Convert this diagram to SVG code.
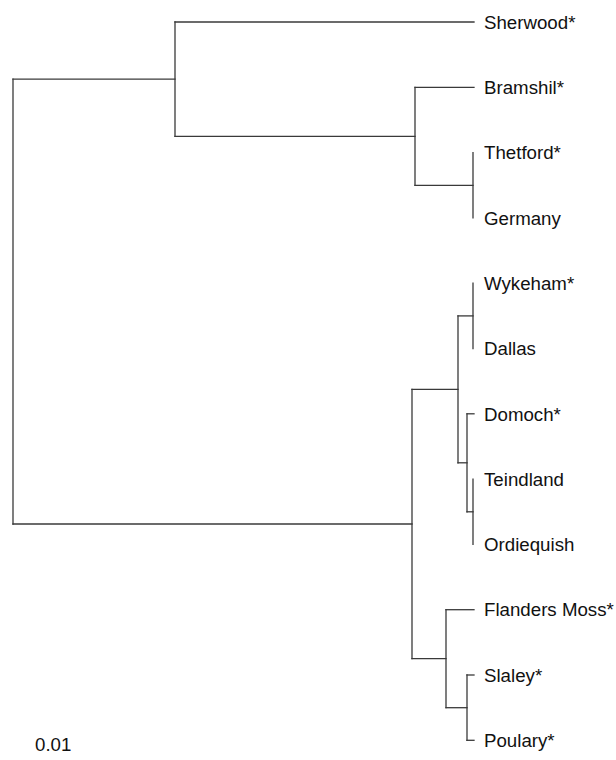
<svg xmlns="http://www.w3.org/2000/svg" width="616" height="760" viewBox="0 0 616 760">
<style>
.e{fill:none;stroke:#3a3a3a;stroke-width:1.3;stroke-linecap:square}
.t{font-family:"Liberation Sans",Arial,sans-serif;font-size:18.7px;fill:#111}
</style>
<rect width="616" height="760" fill="#fff"/>
<g id="connectors">
<path class="e" d="M13,79.1 V524"/>
<path class="e" d="M13,79.1 H175"/>
<path class="e" d="M13,524 H412"/>
<path class="e" d="M175,22 V136.3"/>
<path class="e" d="M175,22 H474"/>
<path class="e" d="M175,136.3 H415"/>
<path class="e" d="M415,87.3 V185.3"/>
<path class="e" d="M415,87.3 H474"/>
<path class="e" d="M415,185.3 H473"/>
<path class="e" d="M473,152.6 V217.9"/>
<path class="e" d="M412,389.3 V658.7"/>
<path class="e" d="M412,389.3 H458"/>
<path class="e" d="M458,315.9 V462.8"/>
<path class="e" d="M458,315.9 H473"/>
<path class="e" d="M473,283.2 V348.5"/>
<path class="e" d="M458,462.8 H467"/>
<path class="e" d="M467,413.8 V511.8"/>
<path class="e" d="M467,413.8 H474"/>
<path class="e" d="M467,511.8 H473"/>
<path class="e" d="M473,479.1 V544.4"/>
<path class="e" d="M412,658.7 H446"/>
<path class="e" d="M446,609.7 V707.7"/>
<path class="e" d="M446,609.7 H474"/>
<path class="e" d="M446,707.7 H467"/>
<path class="e" d="M467,675 V740.3"/>
<path class="e" d="M467,675 H474"/>
<path class="e" d="M467,740.3 H474"/>
</g>
<g id="sherwood"><text class="t" x="484" y="28.7">Sherwood*</text></g>
<g id="bramshil"><text class="t" x="484" y="94">Bramshil*</text></g>
<g id="thetford"><text class="t" x="484" y="159.3">Thetford*</text></g>
<g id="germany"><text class="t" x="484" y="224.6">Germany</text></g>
<g id="wykeham"><text class="t" x="484" y="289.9">Wykeham*</text></g>
<g id="dallas"><text class="t" x="484" y="355.2">Dallas</text></g>
<g id="domoch"><text class="t" x="484" y="420.5">Domoch*</text></g>
<g id="teindland"><text class="t" x="484" y="485.8">Teindland</text></g>
<g id="ordiequish"><text class="t" x="484" y="551.1">Ordiequish</text></g>
<g id="flanders-moss"><text class="t" x="484" y="616.4">Flanders Moss*</text></g>
<g id="slaley"><text class="t" x="484" y="681.7">Slaley*</text></g>
<g id="poulary"><text class="t" x="484" y="747">Poulary*</text></g>
<g id="scale"><text class="t" x="35" y="751">0.01</text></g>
</svg>
